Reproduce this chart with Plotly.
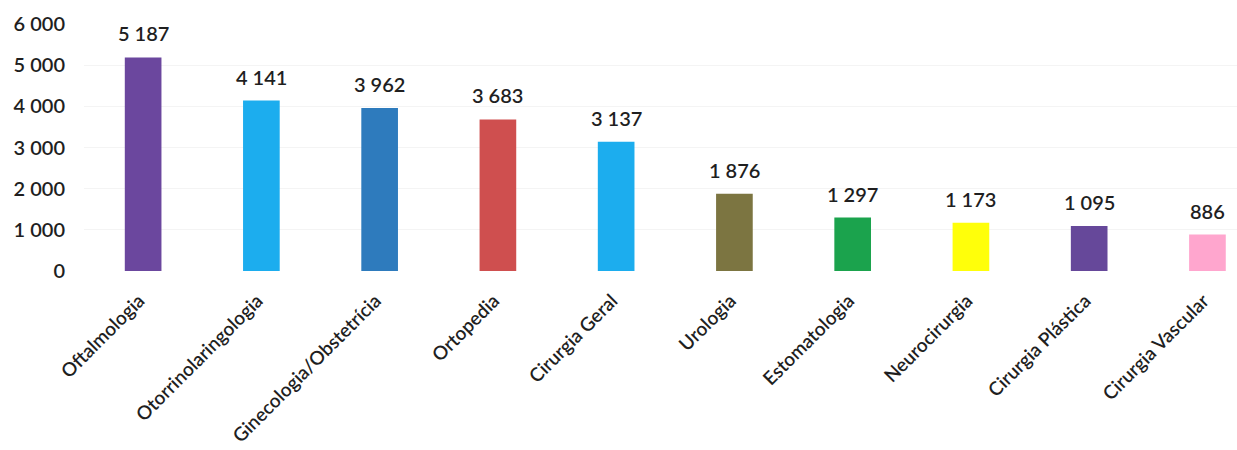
import plotly.graph_objects as go

especialidades = ["Oftalmologia", "Otorrinolaringologia", "Ginecologia/Obstetrícia", "Ortopedia",
                  "Cirurgia Geral", "Urologia", "Estomatologia", "Neurocirurgia",
                  "Cirurgia Plástica", "Cirurgia Vascular"]
cirurgias = [5187, 4141, 3962, 3683, 3137, 1876, 1297, 1173, 1095, 886]
cores = ["#6B479E", "#1CADEE", "#2E7BBD", "#CF4F4F", "#1CADEE",
         "#7C7541", "#1BA34D", "#FFFF0A", "#66489A", "#FFA6CE"]
y_ticks = [0, 1000, 2000, 3000, 4000, 5000, 6000]

texto = "#1f1f1f"

fig = go.Figure(go.Bar(
    x=especialidades, y=cirurgias, marker_color=cores, width=0.31,
    marker_line_width=0, showlegend=False,
))

for nome, valor in zip(especialidades, cirurgias):
    fig.add_annotation(
        x=nome, y=valor, text=f"{valor:,}".replace(",", " "),
        showarrow=False, yanchor="bottom", yshift=10,
        font=dict(family="Lato", size=20, color=texto, weight=600),
    )

fig.update_layout(
    width=1237, height=450,
    margin=dict(l=84, r=0, t=24, b=179, autoexpand=False),
    plot_bgcolor="white", paper_bgcolor="white",
    separators=", ",
    font=dict(family="Lato", color=texto),
    bargap=0.69,
)
fig.update_xaxes(
    range=[-0.5, 9.25], tickangle=-45, showgrid=False, showline=False,
    automargin=False, ticklabelshift=-4, ticklabelstandoff=14,
    tickfont=dict(family="Lato", size=19, color=texto, weight=600),
)
fig.update_yaxes(
    range=[0, 6000], tickvals=y_ticks, tickformat=",d",
    showgrid=True, gridcolor="#f4f4f4", zeroline=False, showline=False,
    automargin=False, ticklabelstandoff=18,
    tickfont=dict(family="Lato", size=20, color=texto, weight=600),
)

fig.write_html("out.html")
